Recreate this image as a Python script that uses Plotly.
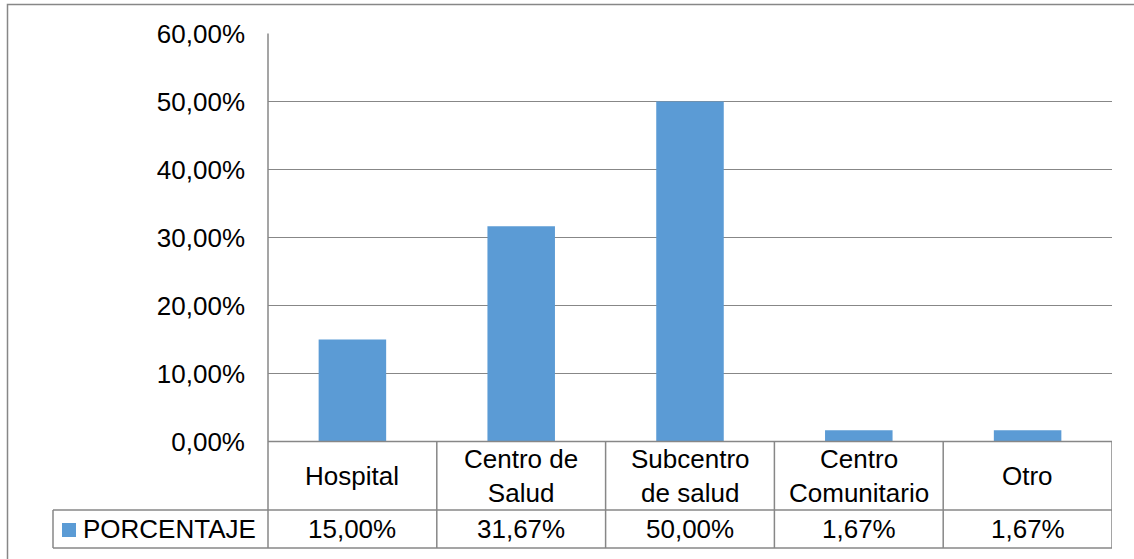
import plotly.graph_objects as go

categories = ["Hospital", "Centro de<br>Salud", "Subcentro<br>de salud", "Centro<br>Comunitario", "Otro"]
values = [0.15, 0.3167, 0.50, 0.0167, 0.0167]
value_labels = ["15,00%", "31,67%", "50,00%", "1,67%", "1,67%"]
series_name = "PORCENTAJE"
tick_vals = [0, 0.1, 0.2, 0.3, 0.4, 0.5, 0.6]

W, H = 1134, 559
BAR = "#5B9BD5"
GRID = "#878787"
FONT = "Liberation Sans, Arial, sans-serif"
FS = 26

def px(x):
    return x / W

def py(y):
    return (H - y) / H

x_left, x_right = 268, 1112
y_top, y_zero = 33.5, 441.5
row1_bottom, row2_bottom = 510, 548
legend_left = 53

fig = go.Figure()
fig.add_trace(go.Bar(x=list(range(len(categories))), y=values, marker_color=BAR,
                     marker_line_width=0, width=0.4, name=series_name, showlegend=False))

fig.update_layout(
    width=W, height=H,
    margin=dict(l=0, r=0, t=0, b=0, pad=0, autoexpand=False),
    showlegend=False,
    paper_bgcolor="white", plot_bgcolor="white",
    separators=",.",
    font=dict(family=FONT, size=FS, color="#000000"),
    xaxis=dict(domain=[px(x_left), px(x_right)], range=[-0.5, len(categories) - 0.5],
               showticklabels=False, showgrid=False, zeroline=False, showline=False,
               fixedrange=True, automargin=False),
    yaxis=dict(domain=[py(y_zero), py(y_top)], range=[0, 0.6], tickvals=tick_vals,
               tickformat=".2%", showgrid=True, gridcolor=GRID, gridwidth=1.5,
               zeroline=False, showline=False, ticks="", ticklabelstandoff=22,
               automargin=False, fixedrange=True,
               tickfont=dict(family=FONT, size=FS, color="#000000")),
)

shapes = []
line = dict(color=GRID, width=1.5)
# outer chart border (only top and left visible)
shapes.append(dict(type="rect", xref="paper", yref="paper", x0=px(7.5), x1=px(1160), y0=py(600), y1=py(4.5),
                   line=dict(color=GRID, width=1.5), fillcolor="rgba(0,0,0,0)", layer="below"))
# left axis line through table
shapes.append(dict(type="line", xref="paper", yref="paper", x0=px(x_left), x1=px(x_left),
                   y0=py(y_top), y1=py(row2_bottom), line=line))
# table horizontal lines
shapes.append(dict(type="line", xref="paper", yref="paper", x0=px(x_left), x1=px(x_right),
                   y0=py(y_zero), y1=py(y_zero), line=line))
for yy in (row1_bottom, row2_bottom):
    shapes.append(dict(type="line", xref="paper", yref="paper", x0=px(legend_left), x1=px(x_right),
                       y0=py(yy), y1=py(yy), line=line))
# legend cell left border
shapes.append(dict(type="line", xref="paper", yref="paper", x0=px(legend_left), x1=px(legend_left),
                   y0=py(row1_bottom), y1=py(row2_bottom), line=line))
# category separators
for i in range(len(categories)):
    shapes.append(dict(type="line", xref="x", yref="paper", x0=i + 0.5, x1=i + 0.5,
                       y0=py(y_zero), y1=py(row2_bottom), line=line))
# legend key square
shapes.append(dict(type="rect", xref="paper", yref="paper", x0=px(62), x1=px(76), y0=py(537), y1=py(523),
                   fillcolor=BAR, line=dict(width=0)))
fig.update_layout(shapes=shapes)

annotations = []
for i, (c, v) in enumerate(zip(categories, value_labels)):
    annotations.append(dict(x=i, xref="x", y=py((y_zero + row1_bottom) / 2), yref="paper", text=c,
                            showarrow=False, font=dict(family=FONT, size=FS, color="#000"),
                            xanchor="center", yanchor="middle", align="center"))
    annotations.append(dict(x=i, xref="x", y=py((row1_bottom + row2_bottom) / 2), yref="paper", text=v,
                            showarrow=False, font=dict(family=FONT, size=FS, color="#000"),
                            xanchor="center", yanchor="middle"))
annotations.append(dict(x=px(81), xref="paper", y=py((row1_bottom + row2_bottom) / 2), yref="paper",
                        text=series_name, showarrow=False, font=dict(family=FONT, size=FS, color="#000"),
                        xanchor="left", yanchor="middle"))
fig.update_layout(annotations=annotations)

fig.write_html("out.html",
               config={"displayModeBar": False, "staticPlot": True},
               post_script="document.body.style.margin='0';document.body.style.overflow='hidden';")
